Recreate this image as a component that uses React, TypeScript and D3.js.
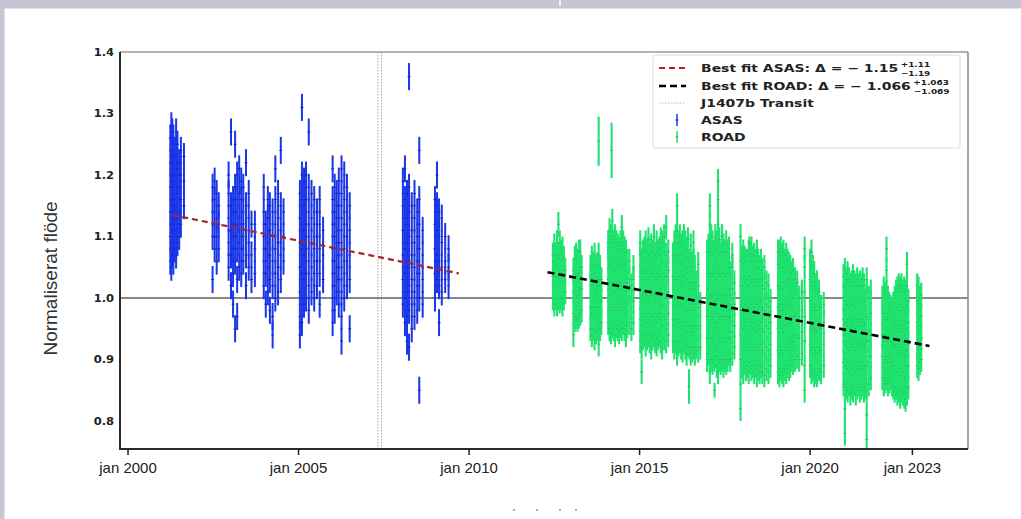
import React from "react";
import * as d3 from "d3";

// ---------- data ----------
const X_TICKS = [2000, 2005, 2010, 2015, 2020, 2023];
const X_TICK_LABELS = ["jan 2000", "jan 2005", "jan 2010", "jan 2015", "jan 2020", "jan 2023"];
const Y_TICKS = [0.8, 0.9, 1.0, 1.1, 1.2, 1.3, 1.4];
const X_DOMAIN = [1999.765, 2024.63];
const Y_DOMAIN = [0.7545, 1.4];

const TRANSIT = 2007.38;
const REFERENCE_LEVEL = 1.0;
const FIT_ASAS: [number, number][] = [[2001.3, 1.135], [2009.7, 1.04]];
const FIT_ROAD: [number, number][] = [[2012.3, 1.042], [2023.5, 0.922]];

const ASAS_ERR = 0.022;
const ROAD_ERR = 0.02;

// [time (decimal year), normalised flux values observed around that time]
const ASAS_COLUMNS: [number, number[]][] = [
  [2001.24, [1.06, 1.10, 1.14, 1.18, 1.22, 1.26]],
  [2001.27, [1.05, 1.09, 1.13, 1.17, 1.21, 1.25, 1.28]],
  [2001.30, [1.07, 1.11, 1.15, 1.19, 1.23, 1.27]],
  [2001.33, [1.06, 1.10, 1.14, 1.18, 1.22, 1.26]],
  [2001.37, [1.08, 1.12, 1.16, 1.20, 1.24]],
  [2001.41, [1.07, 1.11, 1.15, 1.19, 1.23, 1.27]],
  [2001.45, [1.09, 1.13, 1.17, 1.21, 1.25]],
  [2001.50, [1.10, 1.14, 1.18, 1.22]],
  [2001.55, [1.12, 1.16, 1.20, 1.24]],
  [2001.64, [1.15, 1.19, 1.23]],
  [2002.48, [1.03, 1.10, 1.14, 1.18]],
  [2002.54, [1.08, 1.12, 1.16, 1.19]],
  [2002.60, [1.06, 1.10, 1.13, 1.17]],
  [2002.66, [1.08, 1.12, 1.15]],
  [2002.95, [1.05, 1.09, 1.13, 1.17, 1.20]],
  [2003.02, [1.02, 1.07, 1.11, 1.15, 1.27]],
  [2003.08, [0.99, 1.04, 1.08, 1.12, 1.16]],
  [2003.14, [0.95, 1.06, 1.10, 1.14, 1.18, 1.25]],
  [2003.20, [0.97, 1.03, 1.08, 1.12, 1.16, 1.20]],
  [2003.26, [1.05, 1.09, 1.13, 1.17, 1.21]],
  [2003.32, [1.04, 1.08, 1.12, 1.16, 1.19]],
  [2003.38, [1.06, 1.10, 1.14, 1.18]],
  [2003.46, [1.02, 1.07, 1.11, 1.15, 1.22]],
  [2003.54, [1.05, 1.09, 1.13, 1.17]],
  [2003.62, [1.03, 1.07, 1.12]],
  [2003.72, [1.04, 1.08, 1.12]],
  [2003.98, [1.02, 1.06, 1.10, 1.14, 1.18]],
  [2004.04, [0.99, 1.04, 1.08, 1.12]],
  [2004.10, [1.01, 1.05, 1.09, 1.13, 1.16]],
  [2004.16, [0.98, 1.03, 1.07, 1.11, 1.15]],
  [2004.24, [0.94, 0.97, 1.02, 1.06, 1.10, 1.14]],
  [2004.32, [1.00, 1.04, 1.08, 1.12, 1.16, 1.21]],
  [2004.40, [1.01, 1.05, 1.09, 1.13, 1.17]],
  [2004.48, [1.03, 1.07, 1.11, 1.15, 1.24]],
  [2004.56, [1.06, 1.10, 1.14]],
  [2005.04, [0.94, 0.97, 1.01, 1.05, 1.09, 1.13, 1.17]],
  [2005.10, [0.96, 1.00, 1.04, 1.08, 1.12, 1.16, 1.20, 1.31]],
  [2005.16, [0.99, 1.03, 1.07, 1.11, 1.15, 1.19]],
  [2005.22, [1.00, 1.04, 1.08, 1.12, 1.16, 1.20]],
  [2005.30, [0.98, 1.02, 1.06, 1.10, 1.14, 1.18, 1.27]],
  [2005.38, [1.01, 1.05, 1.09, 1.13, 1.17]],
  [2005.46, [1.00, 1.04, 1.08, 1.12, 1.16]],
  [2005.54, [1.02, 1.06, 1.10, 1.14]],
  [2005.62, [0.99, 1.04, 1.08, 1.12, 1.16]],
  [2005.72, [1.03, 1.07, 1.11]],
  [2006.00, [0.96, 1.00, 1.04, 1.08, 1.12, 1.16, 1.21]],
  [2006.06, [0.98, 1.02, 1.06, 1.10, 1.14, 1.18]],
  [2006.12, [1.01, 1.05, 1.09, 1.13, 1.17]],
  [2006.18, [0.99, 1.03, 1.07, 1.11, 1.15, 1.19]],
  [2006.26, [0.93, 0.97, 1.01, 1.05, 1.09, 1.13, 1.17, 1.21]],
  [2006.34, [1.00, 1.04, 1.08, 1.12, 1.16, 1.20]],
  [2006.42, [1.02, 1.06, 1.10, 1.14, 1.18]],
  [2006.50, [0.95, 1.03, 1.07, 1.11, 1.15]],
  [2008.06, [0.99, 1.03, 1.07, 1.11, 1.15, 1.19]],
  [2008.12, [0.96, 1.00, 1.04, 1.08, 1.12, 1.16, 1.21]],
  [2008.18, [0.93, 0.97, 1.01, 1.05, 1.09, 1.13, 1.17]],
  [2008.24, [0.92, 0.98, 1.02, 1.06, 1.10, 1.14, 1.18, 1.36]],
  [2008.32, [0.95, 0.99, 1.03, 1.07, 1.11, 1.15]],
  [2008.40, [0.97, 1.01, 1.05, 1.09, 1.13, 1.17]],
  [2008.48, [0.98, 1.02, 1.06, 1.10, 1.14]],
  [2008.54, [0.85, 1.00, 1.04, 1.08, 1.12, 1.16, 1.24]],
  [2008.64, [0.99, 1.03, 1.07, 1.11]],
  [2009.00, [1.00, 1.04, 1.08, 1.12, 1.16]],
  [2009.06, [1.03, 1.07, 1.11, 1.15, 1.20]],
  [2009.12, [0.96, 1.02, 1.06, 1.10, 1.14]],
  [2009.20, [1.01, 1.05, 1.09, 1.13]],
  [2009.30, [1.03, 1.06, 1.10]],
  [2009.40, [1.02, 1.05, 1.08]],
];

const ROAD_COLUMNS: [number, number[]][] = [
  [2012.46, [1.00, 1.035, 1.07]],
  [2012.50, [0.99, 1.025, 1.06, 1.085]],
  [2012.54, [1.00, 1.035, 1.07]],
  [2012.58, [0.99, 1.02, 1.055, 1.09]],
  [2012.62, [1.00, 1.035, 1.07, 1.12]],
  [2012.66, [0.995, 1.03, 1.065, 1.09]],
  [2012.70, [1.00, 1.04, 1.075]],
  [2012.74, [0.99, 1.025, 1.06, 1.08]],
  [2012.78, [1.00, 1.035, 1.065]],
  [2012.82, [1.01, 1.045]],
  [2013.06, [0.94, 0.975, 1.01, 1.045]],
  [2013.10, [0.965, 1.00, 1.035, 1.065]],
  [2013.14, [0.97, 1.005, 1.04, 1.07]],
  [2013.18, [0.965, 1.00, 1.035, 1.06]],
  [2013.22, [0.97, 1.005, 1.04, 1.075]],
  [2013.26, [0.975, 1.01, 1.045, 1.075]],
  [2013.30, [0.98, 1.015, 1.05]],
  [2013.56, [0.95, 0.985, 1.02, 1.05]],
  [2013.60, [0.94, 0.975, 1.01, 1.045, 1.065]],
  [2013.64, [0.95, 0.985, 1.02, 1.055]],
  [2013.68, [0.935, 0.97, 1.005, 1.04, 1.07]],
  [2013.72, [0.945, 0.98, 1.015, 1.05]],
  [2013.76, [0.95, 0.985, 1.02, 1.055]],
  [2013.80, [0.925, 0.96, 0.995, 1.03, 1.07]],
  [2013.84, [0.95, 0.985, 1.02, 1.05]],
  [2013.88, [0.96, 0.995, 1.03]],
  [2014.08, [0.96, 0.995, 1.03, 1.065, 1.09]],
  [2014.12, [0.95, 0.985, 1.02, 1.055, 1.09, 1.11]],
  [2014.16, [0.945, 0.98, 1.015, 1.05, 1.085, 1.10]],
  [2014.20, [0.955, 0.99, 1.025, 1.06, 1.095, 1.125]],
  [2014.24, [0.95, 0.985, 1.02, 1.055, 1.09]],
  [2014.28, [0.94, 0.975, 1.01, 1.045, 1.08, 1.10]],
  [2014.32, [0.955, 0.99, 1.025, 1.06, 1.09]],
  [2014.36, [0.95, 0.985, 1.02, 1.055, 1.085]],
  [2014.40, [0.945, 0.98, 1.015, 1.05, 1.08]],
  [2014.44, [0.955, 0.99, 1.025, 1.06, 1.09]],
  [2014.48, [0.95, 0.985, 1.02, 1.055, 1.085, 1.115]],
  [2014.52, [0.96, 0.995, 1.03, 1.065, 1.09]],
  [2014.56, [0.95, 0.985, 1.02, 1.055, 1.08]],
  [2014.60, [0.94, 0.975, 1.01, 1.045, 1.075]],
  [2014.64, [0.955, 0.99, 1.025, 1.06]],
  [2014.70, [0.96, 0.995, 1.03, 1.06]],
  [2014.76, [0.95, 0.985, 1.02]],
  [2014.82, [0.96, 0.995, 1.03, 1.05]],
  [2015.02, [0.93, 0.965, 1.00, 1.035, 1.07, 1.09]],
  [2015.06, [0.88, 0.92, 0.955, 0.99, 1.025, 1.06]],
  [2015.10, [0.935, 0.97, 1.005, 1.04, 1.075]],
  [2015.14, [0.94, 0.975, 1.01, 1.045, 1.08]],
  [2015.18, [0.925, 0.96, 0.995, 1.03, 1.065, 1.09]],
  [2015.22, [0.935, 0.97, 1.005, 1.04, 1.075]],
  [2015.26, [0.94, 0.975, 1.01, 1.045, 1.08, 1.095]],
  [2015.30, [0.93, 0.965, 1.00, 1.035, 1.07]],
  [2015.34, [0.92, 0.955, 0.99, 1.025, 1.06, 1.085]],
  [2015.38, [0.935, 0.97, 1.005, 1.04, 1.075]],
  [2015.42, [0.94, 0.975, 1.01, 1.045, 1.08, 1.10]],
  [2015.46, [0.93, 0.965, 1.00, 1.035, 1.07]],
  [2015.50, [0.925, 0.96, 0.995, 1.03, 1.065, 1.09]],
  [2015.54, [0.935, 0.97, 1.005, 1.04, 1.075]],
  [2015.58, [0.94, 0.975, 1.01, 1.045, 1.08]],
  [2015.62, [0.93, 0.965, 1.00, 1.035, 1.07, 1.095]],
  [2015.66, [0.92, 0.955, 0.99, 1.025, 1.06, 1.09]],
  [2015.72, [0.935, 0.97, 1.005, 1.04, 1.075, 1.10]],
  [2015.78, [0.93, 0.965, 1.00, 1.035, 1.07, 1.115]],
  [2015.84, [0.94, 0.975, 1.01, 1.045, 1.075]],
  [2015.98, [0.93, 0.965, 1.00, 1.035, 1.07]],
  [2016.02, [0.92, 0.955, 0.99, 1.025, 1.06, 1.09]],
  [2016.06, [0.93, 0.965, 1.00, 1.035, 1.07, 1.10]],
  [2016.10, [0.91, 0.95, 0.99, 1.03, 1.07, 1.11, 1.15]],
  [2016.14, [0.925, 0.96, 0.995, 1.03, 1.065, 1.09]],
  [2016.18, [0.93, 0.965, 1.00, 1.035, 1.07, 1.10]],
  [2016.22, [0.92, 0.955, 0.99, 1.025, 1.06, 1.085]],
  [2016.26, [0.915, 0.95, 0.985, 1.02, 1.055, 1.09]],
  [2016.30, [0.93, 0.965, 1.00, 1.035, 1.07, 1.10]],
  [2016.34, [0.92, 0.955, 0.99, 1.025, 1.06, 1.09]],
  [2016.38, [0.91, 0.945, 0.98, 1.015, 1.05, 1.08]],
  [2016.42, [0.925, 0.96, 0.995, 1.03, 1.065, 1.095]],
  [2016.46, [0.92, 0.955, 0.99, 1.025, 1.06]],
  [2016.50, [0.91, 0.945, 0.98, 1.015, 1.05, 1.085]],
  [2016.54, [0.915, 0.95, 0.985, 1.02, 1.055]],
  [2016.58, [0.92, 0.955, 0.99, 1.025, 1.06, 1.09]],
  [2016.62, [0.91, 0.945, 0.98, 1.015, 1.05]],
  [2016.66, [0.92, 0.955, 0.99, 1.025]],
  [2016.72, [0.915, 0.95, 0.985, 1.02, 1.055]],
  [2016.78, [0.92, 0.955, 0.99]],
  [2016.98, [0.90, 0.935, 0.97, 1.005, 1.04, 1.075]],
  [2017.02, [0.91, 0.945, 0.98, 1.015, 1.05, 1.085]],
  [2017.06, [0.88, 0.92, 0.96, 1.00, 1.04, 1.08, 1.12, 1.15]],
  [2017.10, [0.90, 0.935, 0.97, 1.005, 1.04, 1.075, 1.10]],
  [2017.14, [0.895, 0.93, 0.965, 1.00, 1.035, 1.07, 1.09]],
  [2017.18, [0.90, 0.935, 0.97, 1.005, 1.04, 1.075]],
  [2017.22, [0.905, 0.94, 0.975, 1.01, 1.045, 1.08, 1.10]],
  [2017.26, [0.89, 0.925, 0.96, 0.995, 1.03, 1.065, 1.09]],
  [2017.30, [0.88, 0.92, 0.96, 1.00, 1.04, 1.08, 1.12, 1.16, 1.19]],
  [2017.34, [0.90, 0.935, 0.97, 1.005, 1.04, 1.075, 1.095]],
  [2017.38, [0.895, 0.93, 0.965, 1.00, 1.035, 1.07]],
  [2017.42, [0.90, 0.935, 0.97, 1.005, 1.04, 1.075, 1.10]],
  [2017.46, [0.89, 0.925, 0.96, 0.995, 1.03, 1.065, 1.085]],
  [2017.50, [0.90, 0.935, 0.97, 1.005, 1.04, 1.075]],
  [2017.54, [0.895, 0.93, 0.965, 1.00, 1.035, 1.07, 1.09]],
  [2017.58, [0.90, 0.935, 0.97, 1.005, 1.04, 1.075]],
  [2017.62, [0.91, 0.945, 0.98, 1.015, 1.05, 1.08]],
  [2017.66, [0.90, 0.935, 0.97, 1.005, 1.04]],
  [2017.72, [0.91, 0.945, 0.98, 1.015, 1.05, 1.07]],
  [2017.78, [0.92, 0.955, 0.99, 1.025]],
  [2017.96, [0.82, 0.86, 0.90, 0.94, 0.98, 1.02, 1.06, 1.10]],
  [2018.00, [0.89, 0.925, 0.96, 0.995, 1.03, 1.065]],
  [2018.04, [0.88, 0.915, 0.95, 0.985, 1.02, 1.055, 1.075]],
  [2018.08, [0.895, 0.93, 0.965, 1.00, 1.035, 1.065]],
  [2018.12, [0.885, 0.92, 0.955, 0.99, 1.025, 1.06]],
  [2018.16, [0.89, 0.925, 0.96, 0.995, 1.03, 1.06]],
  [2018.20, [0.88, 0.915, 0.95, 0.985, 1.02, 1.055, 1.075]],
  [2018.24, [0.895, 0.93, 0.965, 1.00, 1.035, 1.07]],
  [2018.28, [0.885, 0.92, 0.955, 0.99, 1.025, 1.06, 1.08]],
  [2018.32, [0.89, 0.925, 0.96, 0.995, 1.03, 1.065]],
  [2018.36, [0.88, 0.915, 0.95, 0.985, 1.02, 1.055, 1.07]],
  [2018.40, [0.89, 0.925, 0.96, 0.995, 1.03, 1.06]],
  [2018.44, [0.875, 0.91, 0.945, 0.98, 1.015, 1.05, 1.075]],
  [2018.48, [0.885, 0.92, 0.955, 0.99, 1.025, 1.06]],
  [2018.52, [0.88, 0.915, 0.95, 0.985, 1.02, 1.05]],
  [2018.56, [0.89, 0.925, 0.96, 0.995, 1.03, 1.06]],
  [2018.60, [0.88, 0.915, 0.95, 0.985, 1.02, 1.045]],
  [2018.66, [0.875, 0.91, 0.945, 0.98, 1.015, 1.05]],
  [2018.72, [0.885, 0.92, 0.955, 0.99, 1.025]],
  [2018.78, [0.88, 0.915, 0.95, 0.985, 1.02]],
  [2018.84, [0.89, 0.925, 0.96, 0.995]],
  [2019.06, [0.88, 0.915, 0.95, 0.985, 1.02, 1.055, 1.075]],
  [2019.10, [0.875, 0.91, 0.945, 0.98, 1.015, 1.05, 1.075]],
  [2019.14, [0.885, 0.92, 0.955, 0.99, 1.025, 1.06, 1.08]],
  [2019.18, [0.88, 0.915, 0.95, 0.985, 1.02, 1.055, 1.07]],
  [2019.22, [0.875, 0.91, 0.945, 0.98, 1.015, 1.05, 1.075]],
  [2019.26, [0.885, 0.92, 0.955, 0.99, 1.025, 1.06]],
  [2019.30, [0.88, 0.915, 0.95, 0.985, 1.02, 1.055, 1.07]],
  [2019.34, [0.89, 0.925, 0.96, 0.995, 1.03, 1.06]],
  [2019.38, [0.885, 0.92, 0.955, 0.99, 1.025, 1.055]],
  [2019.42, [0.89, 0.925, 0.96, 0.995, 1.03, 1.05]],
  [2019.46, [0.90, 0.935, 0.97, 1.005, 1.04]],
  [2019.50, [0.895, 0.93, 0.965, 1.00, 1.035, 1.045]],
  [2019.56, [0.90, 0.935, 0.97, 1.005, 1.03]],
  [2019.62, [0.905, 0.94, 0.975, 1.01, 1.025]],
  [2019.68, [0.90, 0.935, 0.97, 1.00]],
  [2019.76, [0.91, 0.945, 0.98, 1.01]],
  [2019.84, [0.85, 0.89, 0.93, 0.97, 1.01, 1.05, 1.08]],
  [2020.00, [0.89, 0.925, 0.96, 0.995, 1.03, 1.06]],
  [2020.04, [0.88, 0.915, 0.95, 0.985, 1.02, 1.055, 1.075]],
  [2020.08, [0.885, 0.92, 0.955, 0.99, 1.025, 1.05]],
  [2020.12, [0.875, 0.91, 0.945, 0.98, 1.015, 1.04]],
  [2020.16, [0.88, 0.915, 0.95, 0.985, 1.02]],
  [2020.20, [0.875, 0.91, 0.945, 0.98, 1.015, 1.025]],
  [2020.26, [0.885, 0.92, 0.955, 0.99, 1.01]],
  [2020.32, [0.88, 0.915, 0.95, 0.985]],
  [2020.40, [0.89, 0.925, 0.96, 0.99]],
  [2020.98, [0.86, 0.895, 0.93, 0.965, 1.00, 1.035]],
  [2021.02, [0.78, 0.82, 0.86, 0.90, 0.94, 0.98, 1.02, 1.045]],
  [2021.06, [0.855, 0.89, 0.925, 0.96, 0.995, 1.03]],
  [2021.10, [0.85, 0.885, 0.92, 0.955, 0.99, 1.025, 1.04]],
  [2021.14, [0.86, 0.895, 0.93, 0.965, 1.00, 1.03]],
  [2021.18, [0.845, 0.88, 0.915, 0.95, 0.985, 1.02]],
  [2021.22, [0.855, 0.89, 0.925, 0.96, 0.995, 1.025]],
  [2021.26, [0.85, 0.885, 0.92, 0.955, 0.99, 1.02, 1.035]],
  [2021.30, [0.86, 0.895, 0.93, 0.965, 1.00, 1.025]],
  [2021.34, [0.845, 0.88, 0.915, 0.95, 0.985, 1.02]],
  [2021.38, [0.855, 0.89, 0.925, 0.96, 0.995, 1.03]],
  [2021.42, [0.86, 0.895, 0.93, 0.965, 1.00, 1.02]],
  [2021.46, [0.85, 0.885, 0.92, 0.955, 0.99, 1.025]],
  [2021.50, [0.855, 0.89, 0.925, 0.96, 0.995, 1.02]],
  [2021.54, [0.86, 0.895, 0.93, 0.965, 1.00, 1.03]],
  [2021.58, [0.85, 0.885, 0.92, 0.955, 0.99, 1.02]],
  [2021.62, [0.855, 0.89, 0.925, 0.96, 0.995]],
  [2021.66, [0.77, 0.81, 0.85, 0.89, 0.93, 0.97, 1.01, 1.03]],
  [2021.72, [0.86, 0.895, 0.93, 0.965, 1.00]],
  [2021.78, [0.87, 0.905, 0.94, 0.975, 1.01]],
  [2022.12, [0.87, 0.905, 0.94, 0.975, 1.00]],
  [2022.16, [0.86, 0.895, 0.93, 0.965, 1.00, 1.015]],
  [2022.20, [0.865, 0.90, 0.935, 0.97, 1.005]],
  [2022.24, [0.87, 0.905, 0.94, 0.975, 1.01, 1.045, 1.08]],
  [2022.28, [0.86, 0.895, 0.93, 0.965, 1.00]],
  [2022.32, [0.865, 0.90, 0.935, 0.97, 0.99]],
  [2022.36, [0.87, 0.905, 0.94, 0.975, 0.985]],
  [2022.40, [0.86, 0.895, 0.93, 0.965, 0.98]],
  [2022.44, [0.855, 0.89, 0.925, 0.96, 0.99]],
  [2022.48, [0.85, 0.885, 0.92, 0.955, 0.99, 1.00]],
  [2022.52, [0.855, 0.89, 0.925, 0.96, 0.995, 1.01]],
  [2022.56, [0.845, 0.88, 0.915, 0.95, 0.985, 1.015]],
  [2022.60, [0.85, 0.885, 0.92, 0.955, 0.99, 1.02]],
  [2022.64, [0.84, 0.875, 0.91, 0.945, 0.98, 1.015]],
  [2022.68, [0.85, 0.885, 0.92, 0.955, 0.99, 1.02]],
  [2022.72, [0.845, 0.88, 0.915, 0.95, 0.985, 1.01]],
  [2022.76, [0.84, 0.875, 0.91, 0.945, 0.98, 1.015]],
  [2022.80, [0.835, 0.87, 0.905, 0.94, 0.975, 1.01]],
  [2022.84, [0.845, 0.88, 0.915, 0.95, 0.985, 1.02, 1.055]],
  [2022.88, [0.855, 0.89, 0.925, 0.96, 0.995]],
  [2023.14, [0.89, 0.925, 0.96, 0.995, 1.02]],
  [2023.18, [0.885, 0.92, 0.955, 0.99, 1.015]],
  [2023.22, [0.895, 0.93, 0.965, 1.00]],
  [2023.26, [0.90, 0.935, 0.97, 1.005]],
];

// isolated ROAD points with their own error: [time, flux, error]
const ROAD_WIDE: [number, number, number][] = [
  [2013.80, 1.255, 0.04],
  [2014.18, 1.24, 0.045],
  [2016.45, 0.856, 0.028],
  [2017.20, 0.85, 0.012],
  [2018.22, 1.09, 0.01],
];

const LEGEND_ITEMS = [
  { kind: "fitAsas", label: "Best fit ASAS: Δ = − 1.15", sup: "+1.11", sub: "−1.19" },
  { kind: "fitRoad", label: "Best fit ROAD: Δ = − 1.066", sup: "+1.063", sub: "−1.069" },
  { kind: "transit", label: "J1407b Transit" },
  { kind: "asas", label: "ASAS" },
  { kind: "road", label: "ROAD" },
];

const Y_LABEL = "Normaliserat flöde";

// ---------- styling ----------
const ASAS_COLOR = "#1a36ea";
const ASAS_MARK = "#1b1f9c";
const ROAD_COLOR = "#1fe36f";
const ROAD_MARK = "#2fb866";
const FIT_ASAS_COLOR = "#a8262b";
const FIT_ROAD_COLOR = "#000000";
const FRAME = "#c5c5d4";

export default function App() {
  const W = 1021, H = 519;
  const L = 120, R = 968, T = 52, B = 449;
  const x = d3.scaleLinear().domain(X_DOMAIN).range([L, R]);
  const y = d3.scaleLinear().domain(Y_DOMAIN).range([B, T]);

  const asasPts = ASAS_COLUMNS.flatMap(([t, vs]) => vs.map((v) => ({ t, v, e: ASAS_ERR })));
  const roadPts = ROAD_COLUMNS.flatMap(([t, vs]) => vs.map((v) => ({ t, v, e: ROAD_ERR })))
    .concat(ROAD_WIDE.map(([t, v, e]) => ({ t, v, e })));

  const line = d3.line<[number, number]>().x((d) => x(d[0])).y((d) => y(d[1]));

  const bar = (p: { t: number; v: number; e: number }, i: number, col: string, mark: string, w: number) => (
    <g key={i}>
      <line x1={x(p.t)} x2={x(p.t)} y1={y(p.v - p.e)} y2={y(p.v + p.e)} stroke={col} strokeWidth={w} />
      <line x1={x(p.t) - 1.5} x2={x(p.t) + 1.5} y1={y(p.v)} y2={y(p.v)} stroke={mark} strokeWidth={0.9} />
    </g>
  );

  const legX = 653, legY = 55, legW = 307, legH = 93;
  const rowY = [68, 86, 103, 120, 137];
  const SX = 1.27; // horizontal stretch of the legend text

  return (
    <svg width={W} height={H} style={{ position: "absolute", left: 0, top: 0, background: "#fff" }}
      fontFamily="DejaVu Sans, sans-serif">
      <rect x={0} y={0} width={W} height={8.5} fill={FRAME} />
      <rect x={0} y={0} width={4.5} height={H} fill={FRAME} />
      <rect x={559} y={0} width={2} height={6} fill="#f2f2f6" />

      <defs>
        <clipPath id="plotclip"><rect x={L} y={T} width={R - L} height={B - T} /></clipPath>
      </defs>

      <g clipPath="url(#plotclip)">
        <line x1={x(TRANSIT) - 1.8} x2={x(TRANSIT) - 1.8} y1={T} y2={B} stroke="#a8a8a8" strokeWidth={1} strokeDasharray="1.5,1.5" />
        <line x1={x(TRANSIT) + 1.8} x2={x(TRANSIT) + 1.8} y1={T} y2={B} stroke="#a8a8a8" strokeWidth={1} strokeDasharray="1.5,1.5" />
        <line x1={L} x2={R} y1={y(REFERENCE_LEVEL)} y2={y(REFERENCE_LEVEL)} stroke="#111" strokeWidth={1} />
        {asasPts.map((p, i) => bar(p, i, ASAS_COLOR, ASAS_MARK, 2))}
        {roadPts.map((p, i) => bar(p, i + 10000, ROAD_COLOR, ROAD_MARK, 2.1))}
        <path d={line(FIT_ASAS) || ""} fill="none" stroke={FIT_ASAS_COLOR} strokeWidth={2.2} strokeDasharray="6,4" />
        <path d={line(FIT_ROAD) || ""} fill="none" stroke={FIT_ROAD_COLOR} strokeWidth={2.6} strokeDasharray="7,4" />
      </g>

      {/* spines */}
      <line x1={L} x2={R} y1={T} y2={T} stroke="#9a9a9a" strokeWidth={1.5} />
      <line x1={R} x2={R} y1={T} y2={B} stroke="#8a8a8a" strokeWidth={1.5} />
      <line x1={L} x2={L} y1={T} y2={B + 1} stroke="#2a2a2a" strokeWidth={2} />
      <line x1={L - 1} x2={R} y1={B} y2={B} stroke="#2a2a2a" strokeWidth={2} />

      {/* y ticks */}
      {Y_TICKS.map((v) => (
        <text key={v} transform={`translate(${L - 6},${y(v)}) scale(1.15,1)`} dy="0.35em" textAnchor="end" fontSize={10} fontWeight="bold" fill="#222">
          {v.toFixed(1)}
        </text>
      ))}
      {/* x ticks */}
      {X_TICKS.map((t, i) => (
        <g key={t}>
          <line x1={x(t)} x2={x(t)} y1={B} y2={B + 6} stroke="#222" strokeWidth={1.5} />
          <text x={x(t)} y={B + 24} textAnchor="middle" fontSize={15} fontFamily="Liberation Sans, Arial, sans-serif" fill="#222">
            {X_TICK_LABELS[i]}
          </text>
        </g>
      ))}

      <text transform={`translate(57,${(T + B) / 2 + 28}) rotate(-90)`} textAnchor="middle" fontSize={19}
        fontFamily="Liberation Sans, Arial, sans-serif" fill="#333">{Y_LABEL}</text>

      {/* legend */}
      <rect x={legX} y={legY} width={legW} height={legH} fill="#fff" fillOpacity={0.9} stroke="#dcdcdc" strokeWidth={1} rx={2} />
      {LEGEND_ITEMS.map((it, i) => {
        const yy = rowY[i];
        const sx1 = 659, sx2 = 686, mx = 677;
        let sample: React.ReactNode = null;
        if (it.kind === "fitAsas") sample = <line x1={sx1} x2={sx2} y1={yy} y2={yy} stroke={FIT_ASAS_COLOR} strokeWidth={2.2} strokeDasharray="6,4" />;
        if (it.kind === "fitRoad") sample = <line x1={sx1} x2={sx2} y1={yy} y2={yy} stroke={FIT_ROAD_COLOR} strokeWidth={2.6} strokeDasharray="7,4" />;
        if (it.kind === "transit") sample = <line x1={sx1} x2={sx2} y1={yy} y2={yy} stroke="#bbbbbb" strokeWidth={1} strokeDasharray="1.5,1.5" />;
        if (it.kind === "asas") sample = (<g><line x1={mx} x2={mx} y1={yy - 6} y2={yy + 6} stroke={ASAS_COLOR} strokeWidth={1.5} /><line x1={mx - 1.5} x2={mx + 1.5} y1={yy} y2={yy} stroke={ASAS_MARK} /></g>);
        if (it.kind === "road") sample = (<g><line x1={mx} x2={mx} y1={yy - 6} y2={yy + 6} stroke={ROAD_COLOR} strokeWidth={1.5} /><line x1={mx - 1.5} x2={mx + 1.5} y1={yy} y2={yy} stroke={ROAD_MARK} /></g>);
        const supW = it.sup ? it.sup.length * 4.6 : 0;
        return (
          <g key={i}>
            {sample}
            <text transform={`translate(701,${yy}) scale(${SX},1)`} dy="0.35em" fontSize={11} fontWeight="bold" fill="#222">
              {it.label}
              {it.sup && <tspan dx={2} dy={-4.5} fontSize={7}>{it.sup}</tspan>}
              {it.sub && <tspan dx={-supW} dy={9} fontSize={7}>{it.sub}</tspan>}
            </text>
          </g>
        );
      })}

      {/* cropped x-label remnant */}
      {[514, 537, 560, 576].map((cx) => (
        <circle key={cx} cx={cx} cy={510} r={1.1} fill="#999" />
      ))}
    </svg>
  );
}
